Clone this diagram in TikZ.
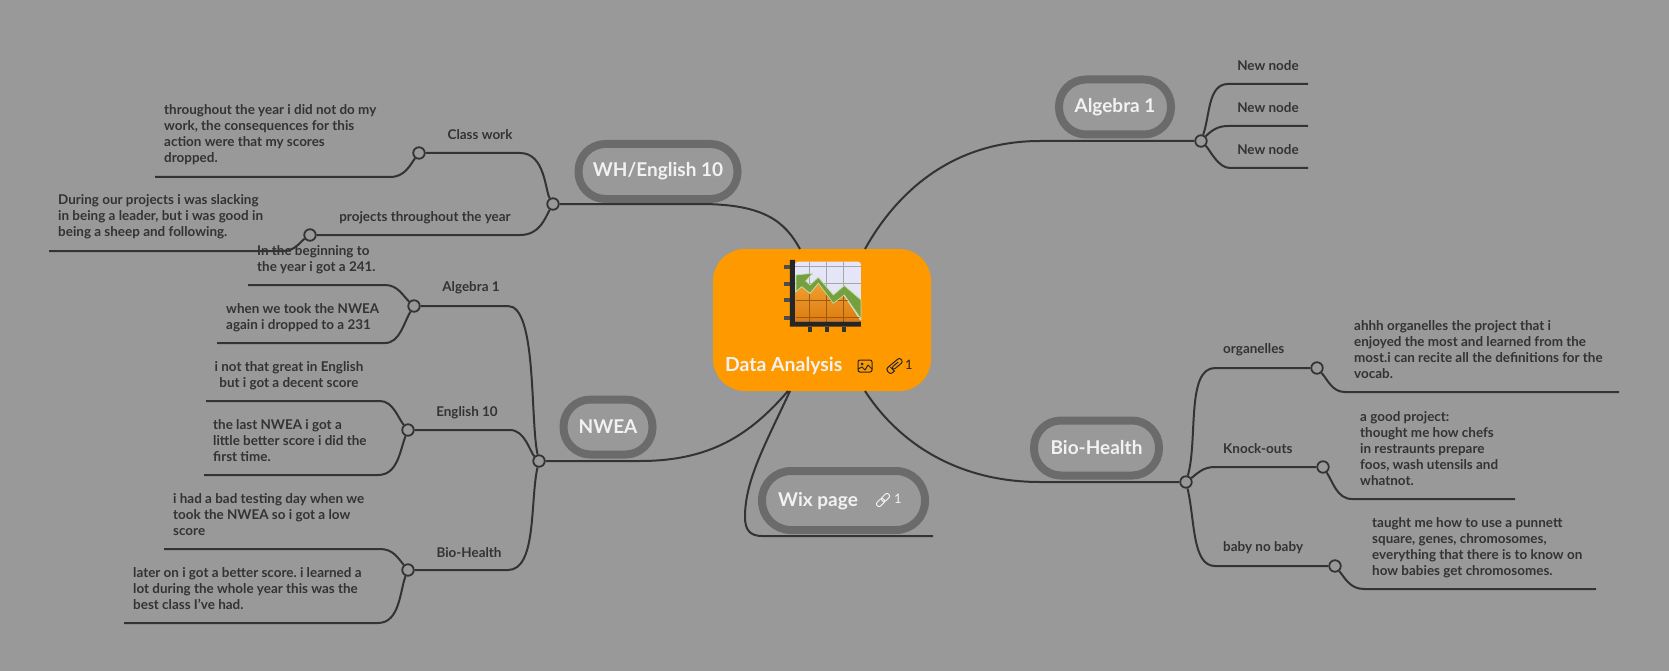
\documentclass[tikz,border=0pt]{standalone}
\usepackage{fontspec}
\setmainfont{Lato}
\usepackage{tikz}
\usetikzlibrary{positioning}
\definecolor{bgGray}{HTML}{999999}
\definecolor{ringGray}{HTML}{6B6B6B}
\definecolor{inkGray}{HTML}{333333}
\definecolor{paleText}{HTML}{F2F2F2}
\definecolor{boxOrange}{HTML}{FF9900}
\definecolor{chartGreen}{HTML}{74A040}
\definecolor{chartEdge}{HTML}{C4DCA8}
\definecolor{chartHigh}{HTML}{F0A030}
\definecolor{chartLow}{HTML}{DE7A10}
\definecolor{gridBrown}{HTML}{9A5A10}
\newcommand{\leaffont}{\frenchspacing\fontsize{13.45}{16}\selectfont\bfseries}
\newcommand{\topicfont}{\fontsize{19}{22}\selectfont\bfseries}
\tikzset{
    topic/.style={draw=ringGray, line width=8pt, fill=bgGray, text=paleText, font=\topicfont,
        rounded corners=27pt, minimum height=55pt, inner sep=0pt},
    hub/.style={circle, draw=inkGray, line width=1.8pt, fill=bgGray, minimum size=11.5pt, inner sep=0pt},
    leaftext/.style={font=\leaffont, text=inkGray, align=left, inner sep=0pt, anchor=west, yshift=-1pt},
    midtext/.style={font=\leaffont, text=inkGray, align=center, inner sep=0pt, yshift=-1pt},
    wire/.style={draw=inkGray, line width=2pt},
}
\begin{document}
\begin{tikzpicture}[x=1pt,y=-1pt]
   \useasboundingbox (0,0) rectangle (1669,671);
   \fill[bgGray] (0,0) rectangle (1669,671);
   % centre box
   \node[fill=boxOrange, rounded corners=32pt, minimum width=218pt, minimum height=142pt, inner sep=0pt] (dataBox) at (822,320) {};
   \node[font=\fontsize{19.4}{22}\selectfont\bfseries, text=paleText, inner sep=0pt, anchor=west, yshift=-1pt] (dataTitle) at (725,365) {Data Analysis};
   \node[font=\fontsize{13}{16}\selectfont, text=black!85, inner sep=0pt] (dataCount) at (909,365) {1};
   \coordinate (boxNE) at (865,249);
   \coordinate (boxNW) at (800,249);
   \coordinate (boxSE) at (865,391);
   \coordinate (boxSW) at (788,391);
   \coordinate (boxS) at (790,391);
   % chart icon
   \begin{scope}[shift={(660,220)},x=.3333pt,y=-.3333pt]
      \shade[top color=white!90!blue, bottom color=white!80!gray, rounded corners=3pt] (405,125) rectangle (603,305);
      \draw[gray!70, line width=.8pt] (449,125) -- (449,305) (500,125) -- (500,305) (551,125) -- (551,305)
          (405,140) -- (603,140) (405,190) -- (603,190);
      \shade[top color=chartHigh, bottom color=chartLow] (407,215) -- (425,200) -- (450,222) -- (475,190) -- (520,250) -- (550,225) -- (603,305) -- (407,305) -- cycle;
      \draw[gridBrown, line width=.8pt] (449,222) -- (449,305) (500,225) -- (500,305) (551,226) -- (551,305)
          (407,240) -- (585,240) (407,292) -- (603,292);
      \fill[chartGreen, draw=chartEdge, line width=.7pt] (408,165) -- (458,160) -- (437,183) -- (450,195) -- (475,172) -- (520,225) -- (553,197) -- (603,240) -- (603,297) -- (553,225) -- (520,250) -- (475,190) -- (450,220) -- (425,200) -- (408,215) -- cycle;
      \fill[black!85] (390,120) -- (405,120) -- (405,305) -- (603,305) -- (603,320) -- (390,320) -- cycle;
      \foreach \tickY in {135,187,235,287}
         \fill[black!70] (372,\tickY) rectangle (390,\tickY+12);
      \foreach \tickX in {443,494,545}
         \fill[black!80] (\tickX,320) rectangle (\tickX+12,335);
   \end{scope}
   % image and clip marks
   \begin{scope}[shift={(865,366)},black!85,line width=1pt]
      \draw[rounded corners=2pt] (-7,-6) rectangle (7,6);
      \fill (-3,-2) circle (1.5pt);
      \draw[line join=round] (-7,3) -- (-3,1) -- (0,4) -- (3,-1) -- (7,3);
   \end{scope}
   \begin{scope}[shift={(895,366)},rotate=40,black!85,line width=1pt]
      \draw[rounded corners=2.5pt] (-3,3.5) -- (-9,3.5) -- (-9,-3.5) -- (9,-3.5) -- (9,2) -- (-4,2) -- (-4,-1) -- (5,-1);
   \end{scope}
   % topics
   \node[topic, minimum width=112pt] (algebraTopic) at (1115,107) {Algebra 1};
   \node[topic, minimum width=125pt] (bioTopic) at (1096.5,448) {Bio-Health};
   \node[topic, minimum width=159pt] (wkTopic) at (658,171.5) {WH/English 10};
   \node[topic, minimum width=89pt] (nweaTopic) at (608,427) {NWEA};
   \node[topic, minimum width=163pt, minimum height=59pt, rounded corners=29pt] (wixTopic) at (843.5,500.5) {};
   \node[font=\topicfont, text=paleText, inner sep=0pt, anchor=west, yshift=-1pt] (wixTitle) at (778,500) {Wix page};
   \node[font=\fontsize{13}{16}\selectfont, text=paleText, inner sep=0pt] (wixCount) at (898,499) {1};
   \begin{scope}[shift={(883,500)},rotate=45,paleText,line width=1pt]
      \draw[rounded corners=2pt] (-8,-2.5) rectangle (1,2.5);
      \draw[rounded corners=2pt] (-1,-2.5) rectangle (8,2.5);
   \end{scope}
   % hubs
   \node[hub] (algebraHub) at (1201,141) {};
   \node[hub] (bioHub) at (1186,482) {};
   \node[hub] (organDot) at (1317,368) {};
   \node[hub] (knockDot) at (1323,467) {};
   \node[hub] (babyDot) at (1335,566) {};
   \node[hub] (nweaHub) at (539,461) {};
   \node[hub] (nwAlgDot) at (414,306) {};
   \node[hub] (nwEngDot) at (408,430) {};
   \node[hub] (nwBioDot) at (408,570) {};
   \node[hub] (wkHub) at (553,204) {};
   \node[hub] (classDot) at (419,153) {};
   \node[hub] (projDot) at (310,235) {};
   % labels
   \node[midtext] (newA) at (1268,65) {New node};
   \node[midtext] (newB) at (1268,107) {New node};
   \node[midtext] (newC) at (1268,149) {New node};
   \node[leaftext] (organLabel) at (1223,349) {organelles};
   \node[leaftext] (knockLabel) at (1223,448) {Knock-outs};
   \node[leaftext] (babyLabel) at (1223,547) {baby no baby};
   \node[midtext] (nwAlgLabel) at (471,287) {Algebra 1};
   \node[midtext] (nwEngLabel) at (467,412) {English 10};
   \node[midtext] (nwBioLabel) at (469,552) {Bio-Health};
   \node[midtext] (classLabel) at (480,134) {Class work};
   \node[midtext] (projLabel) at (425,217) {projects throughout the year};
   % leaf texts
   \node[leaftext] (organText) at (1354,348.5) {ahhh organelles the project that i\\enjoyed the most and learned from the\\most.i can recite all the definitions for the\\vocab.};
   \node[leaftext] (knockText) at (1360,448) {a good project:\\thought me how chefs\\in restraunts prepare\\foos, wash utensils and\\whatnot.};
   \node[leaftext] (babyText) at (1372,546.5) {taught me how to use a punnett\\square, genes, chromosomes,\\everything that there is to know on\\how babies get chromosomes.};
   \node[leaftext] (algAText) at (257,259) {In the beginning to\\the year i got a 241.};
   \node[leaftext] (algBText) at (226,316.5) {when we took the NWEA\\again i dropped to a 231};
   \node[midtext] (engAText) at (289,374.5) {i not that great in English\\but i got a decent score};
   \node[leaftext] (engBText) at (213,439.5) {the last NWEA i got a\\little better score i did the\\first time.};
   \node[leaftext] (bioAText) at (173,513.5) {i had a bad testing day when we\\took the NWEA so i got a low\\score};
   \node[leaftext] (bioBText) at (133,587.5) {later on i got a better score. i learned a\\lot during the whole year this was the\\best class I've had.};
   \node[leaftext] (classText) at (164,134) {throughout the year i did not do my\\work, the consequences for this\\action were that my scores\\dropped.};
   \node[leaftext] (projText) at (58,216) {During our projects i was slacking\\in being a leader, but i was good in\\being a sheep and following.};
   % bends and free ends
   \coordinate (algAEnd) at (248,285);
   \coordinate (algBEnd) at (217,343);
   \coordinate (engAEnd) at (206,401);
   \coordinate (engBEnd) at (204,475);
   \coordinate (bioAEnd) at (164,549);
   \coordinate (bioBEnd) at (124,623);
   \coordinate (classEnd) at (155,177);
   \coordinate (projEnd) at (49,251);
   \coordinate (organEnd) at (1619,392);
   \coordinate (knockEnd) at (1515,499);
   \coordinate (babyEnd) at (1596,589);
   \coordinate (newAEnd) at (1308,84);
   \coordinate (newBEnd) at (1308,126);
   \coordinate (newCEnd) at (1308,168);
   \coordinate (wixEnd) at (933,536);
   % connectors
   \path[wire]
   (boxNE) .. controls (895,195) and (950,141) .. (1040,141) -- (algebraHub)
   (boxSE) .. controls (900,445) and (960,482) .. (1040,482) -- (bioHub)
   (boxNW) .. controls (785,222) and (765,204) .. (700,204) -- (wkHub)
   (boxSW) .. controls (750,435) and (710,461) .. (640,461) -- (nweaHub)
   (boxS) .. controls (765,445) and (745,480) .. (745,517) .. controls (745,530) and (750,536) .. (762,536) -- (wixEnd)
   (algebraHub) .. controls (1210,115) and (1208,84) .. (1228,84) -- (newAEnd)
   (algebraHub) .. controls (1212,130) and (1218,126) .. (1228,126) -- (newBEnd)
   (algebraHub) .. controls (1210,150) and (1218,168) .. (1230,168) -- (newCEnd)
   (bioHub) .. controls (1198,440) and (1186,368) .. (1215,368) -- (organDot)
   (bioHub) .. controls (1198,473) and (1203,467) .. (1215,467) -- (knockDot)
   (bioHub) .. controls (1195,520) and (1192,566) .. (1215,566) -- (babyDot)
   (organDot) .. controls (1328,380) and (1332,392) .. (1345,392) -- (organEnd)
   (knockDot) .. controls (1333,482) and (1337,499) .. (1352,499) -- (knockEnd)
   (babyDot) .. controls (1345,578) and (1350,589) .. (1364,589) -- (babyEnd)
   (nweaHub) .. controls (530,420) and (537,306) .. (508,306) -- (nwAlgDot)
   (nweaHub) .. controls (530,452) and (525,430) .. (510,430) -- (nwEngDot)
   (nweaHub) .. controls (530,500) and (537,570) .. (508,570) -- (nwBioDot)
   (wkHub) .. controls (545,190) and (545,153) .. (520,153) -- (classDot)
   (wkHub) .. controls (545,218) and (540,235) .. (520,235) -- (projDot)
   (nwAlgDot) .. controls (403,296) and (398,285) .. (385,285) -- (algAEnd)
   (nwAlgDot) .. controls (404,322) and (400,343) .. (385,343) -- (algBEnd)
   (nwEngDot) .. controls (398,418) and (393,401) .. (380,401) -- (engAEnd)
   (nwEngDot) .. controls (400,450) and (398,475) .. (378,475) -- (engBEnd)
   (nwBioDot) .. controls (398,558) and (393,549) .. (380,549) -- (bioAEnd)
   (nwBioDot) .. controls (400,590) and (400,623) .. (378,623) -- (bioBEnd)
   (classDot) .. controls (410,165) and (405,177) .. (390,177) -- (classEnd)
   (projDot) .. controls (300,242) and (295,251) .. (283,251) -- (projEnd);
\end{tikzpicture}
\end{document}
